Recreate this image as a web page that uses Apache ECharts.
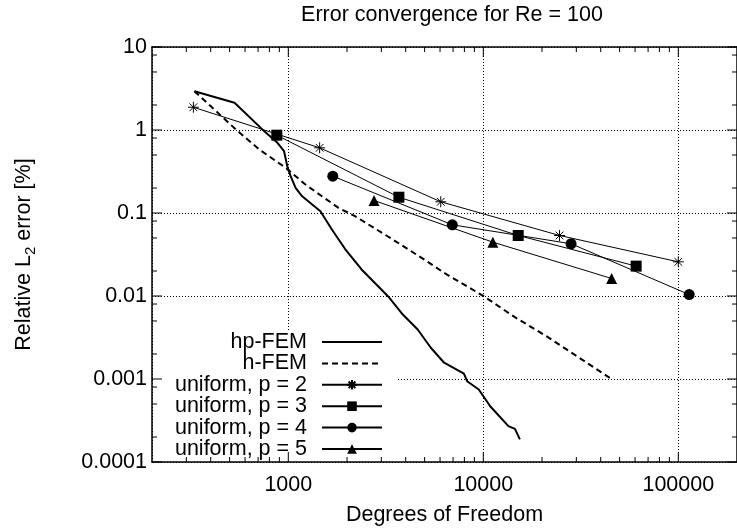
<!DOCTYPE html>
<html><head><meta charset="utf-8">
<script src="https://cdn.jsdelivr.net/npm/echarts@6/dist/echarts.min.js"></script>
<style>html,body{margin:0;padding:0;background:#fff}#c{width:737px;height:531px}</style>
</head><body><div id="c"></div>
<script>
// ---- data ----
const hpDof = [330, 530, 738, 880, 951, 988, 1028, 1090, 1178, 1461, 1673, 1956, 2375, 3245, 3866, 4608, 5383, 6295, 7955, 8260, 9480, 10850, 13450, 14530, 15400];
const hpErr = [2.93, 2.13, 1.01, 0.70, 0.556, 0.366, 0.278, 0.201, 0.159, 0.105, 0.0633, 0.0368, 0.0209, 0.00995, 0.00598, 0.00395, 0.00238, 0.00157, 0.00116, 0.00094, 0.000747, 0.00047, 0.00027, 0.000251, 0.000187];
const hDof = [330, 551, 710, 970, 1225, 1488, 1809, 2199, 3245, 4984, 6295, 10050, 14260, 21050, 31080, 45400];
const hErr = [2.93, 0.967, 0.582, 0.350, 0.220, 0.159, 0.1155, 0.0915, 0.0521, 0.0275, 0.019, 0.00995, 0.00571, 0.00328, 0.0018, 0.001];
const p2Dof = [326, 1448, 6050, 24600, 100000];
const p2Err = [1.88, 0.61, 0.1365, 0.0536, 0.0258];
const p3Dof = [873, 3690, 15100, 60800];
const p3Err = [0.866, 0.155, 0.0536, 0.0229];
const p4Dof = [1691, 6935, 28200, 113700];
const p4Err = [0.278, 0.0721, 0.0426, 0.0104];
const p5Dof = [2754, 11200, 45500];
const p5Err = [0.1415, 0.0445, 0.01625];

const seriesNames = ['hp-FEM', 'h-FEM', 'uniform, p = 2', 'uniform, p = 3', 'uniform, p = 4', 'uniform, p = 5'];

const xMin = 200, xMax = 200000, yMin = 0.0001, yMax = 10;
const xTickValues = [1000, 10000, 100000];
const xTickLabels = ['1000', '10000', '100000'];
const yTickValues = [0.0001, 0.001, 0.01, 0.1, 1, 10];
const yTickLabels = ['0.0001', '0.001', '0.01', '0.1', '1', '10'];
const xMinorTicks = [300, 400, 500, 600, 700, 800, 900, 2000, 3000, 4000, 5000, 6000, 7000, 8000, 9000, 20000, 30000, 40000, 50000, 60000, 70000, 80000, 90000];
const yMinorTicks = [0.0002, 0.0005, 0.0008, 0.002, 0.005, 0.008, 0.02, 0.05, 0.08, 0.2, 0.5, 0.8, 2, 5, 8];

const titleText = 'Error convergence for Re = 100';
const xName = 'Degrees of Freedom';
const yName = 'Relative L{sub|2} error [%]';

// ---- helpers ----
const FONT = 'Liberation Sans, Arial, Helvetica, sans-serif';
const FS = 21.5;
function pairs(xs, ys) { return xs.map((x, i) => [x, ys[i]]); }
function labelFrom(values, labels) {
  return function (v) {
    const i = values.findIndex(t => Math.abs(Math.log10(t) - Math.log10(v)) < 1e-6);
    return i >= 0 ? labels[i] : '';
  };
}
const starPath = 'path://M0,-10L0,10M-10,0L10,0M-7,-7L7,7M-7,7L7,-7';

const chart = echarts.init(document.getElementById('c'), null, {renderer: 'canvas'});

const axisLineStyle = {color: '#000', width: 1.5};
const gridLine = {show: true, lineStyle: {color: '#000', width: 1, type: [1, 2]}};

const xTickData = xTickValues.map(v => [v, yMin, 1]).concat(xMinorTicks.map(v => [v, yMin, 0]));
const yTickData = yTickValues.map(v => [xMin, v, 1]).concat(yMinorTicks.map(v => [xMin, v, 0]));

function tickStyle() { return {stroke: '#000', lineWidth: 1}; }

const legendData = seriesNames.map((n, i) => i < 2 ? {name: n, itemStyle: {opacity: 0}} : {name: n});

const option = {
  backgroundColor: '#fff',
  animation: false,
  textStyle: {fontFamily: FONT, color: '#000'},
  title: {
    text: titleText, left: 447, top: 0, textAlign: 'center', padding: [4, 5],
    textStyle: {fontFamily: FONT, fontSize: FS, fontWeight: 'normal', color: '#000'}
  },
  grid: {left: 152, right: -5, top: 47, bottom: 69, containLabel: false},
  legend: {
    data: legendData,
    orient: 'vertical', align: 'right',
    right: 340, top: 330,
    itemWidth: 60, itemHeight: 12, itemGap: -0.6,
    padding: [1, 14, 1, 21],
    backgroundColor: '#fff',
    textStyle: {fontFamily: FONT, fontSize: FS, color: '#000', padding: [0, 10, 0, 0]},
    inactiveColor: '#000'
  },
  xAxis: [{
    type: 'log', logBase: 10, min: xMin, max: xMax, position: 'bottom',
    axisLine: {lineStyle: axisLineStyle}, axisTick: {show: false},
    axisLabel: {fontFamily: FONT, fontSize: FS, color: '#000', margin: 12, showMinLabel: false, showMaxLabel: false,
      formatter: labelFrom(xTickValues, xTickLabels)},
    splitLine: gridLine,
    name: xName, nameLocation: 'middle', nameGap: 42,
    nameTextStyle: {fontFamily: FONT, fontSize: FS, color: '#000'}
  }, {
    type: 'log', logBase: 10, min: xMin, max: xMax, position: 'top',
    axisLine: {lineStyle: axisLineStyle}, axisTick: {show: false}, axisLabel: {show: false}, splitLine: {show: false}
  }],
  yAxis: [{
    type: 'log', logBase: 10, min: yMin, max: yMax, position: 'left',
    axisLine: {lineStyle: axisLineStyle}, axisTick: {show: false},
    axisLabel: {fontFamily: FONT, fontSize: FS, color: '#000', margin: 5,
      formatter: labelFrom(yTickValues, yTickLabels)},
    splitLine: gridLine,
    name: yName, nameLocation: 'middle', nameGap: 114, nameRotate: 90,
    nameTextStyle: {fontFamily: FONT, fontSize: FS, color: '#000',
      rich: {sub: {fontFamily: FONT, fontSize: 15, lineHeight: 28, verticalAlign: 'bottom', color: '#000'}}}
  }, {
    type: 'log', logBase: 10, min: yMin, max: yMax, position: 'right',
    axisLine: {lineStyle: axisLineStyle}, axisTick: {show: false}, axisLabel: {show: false}, splitLine: {show: false}
  }],
  series: [
    {name: seriesNames[0], type: 'line', data: pairs(hpDof, hpErr), symbol: 'none', showSymbol: false,
      lineStyle: {color: '#000', width: 2}, itemStyle: {color: '#000'}, z: 3},
    {name: seriesNames[1], type: 'line', data: pairs(hDof, hErr), symbol: 'none', showSymbol: false,
      lineStyle: {color: '#000', width: 2, type: [6, 4]}, itemStyle: {color: '#000'}, z: 3},
    {name: seriesNames[2], type: 'line', data: pairs(p2Dof, p2Err), symbol: starPath, symbolSize: 11,
      lineStyle: {color: '#000', width: 1}, itemStyle: {color: '#000', borderColor: '#000', borderWidth: 1}, z: 3},
    {name: seriesNames[3], type: 'line', data: pairs(p3Dof, p3Err), symbol: 'rect', symbolSize: 11,
      lineStyle: {color: '#000', width: 1}, itemStyle: {color: '#000'}, z: 3},
    {name: seriesNames[4], type: 'line', data: pairs(p4Dof, p4Err), symbol: 'circle', symbolSize: 11,
      lineStyle: {color: '#000', width: 1}, itemStyle: {color: '#000'}, z: 3},
    {name: seriesNames[5], type: 'line', data: pairs(p5Dof, p5Err), symbol: 'triangle', symbolSize: 11,
      lineStyle: {color: '#000', width: 1}, itemStyle: {color: '#000'}, z: 3},
    {
      type: 'custom', name: 'xticks', silent: true, z: 6, clip: false, data: xTickData,
      encode: {x: 0, y: 1},
      renderItem: function (params, api) {
        const len = api.value(2) ? 10 : 5;
        const b = api.coord([api.value(0), yMin]);
        const t = api.coord([api.value(0), yMax]);
        return {type: 'group', children: [
          {type: 'line', shape: {x1: b[0], y1: b[1], x2: b[0], y2: b[1] - len}, style: tickStyle()},
          {type: 'line', shape: {x1: t[0], y1: t[1], x2: t[0], y2: t[1] + len}, style: tickStyle()}
        ]};
      }
    },
    {
      type: 'custom', name: 'yticks', silent: true, z: 6, clip: false, data: yTickData,
      encode: {x: 0, y: 1},
      renderItem: function (params, api) {
        const len = api.value(2) ? 10 : 5;
        const l = api.coord([xMin, api.value(1)]);
        const r = api.coord([xMax, api.value(1)]);
        return {type: 'group', children: [
          {type: 'line', shape: {x1: l[0], y1: l[1], x2: l[0] + len, y2: l[1]}, style: tickStyle()},
          {type: 'line', shape: {x1: r[0], y1: r[1], x2: r[0] - len, y2: r[1]}, style: tickStyle()}
        ]};
      }
    }
  ]
};
chart.setOption(option);
</script>
</body></html>
